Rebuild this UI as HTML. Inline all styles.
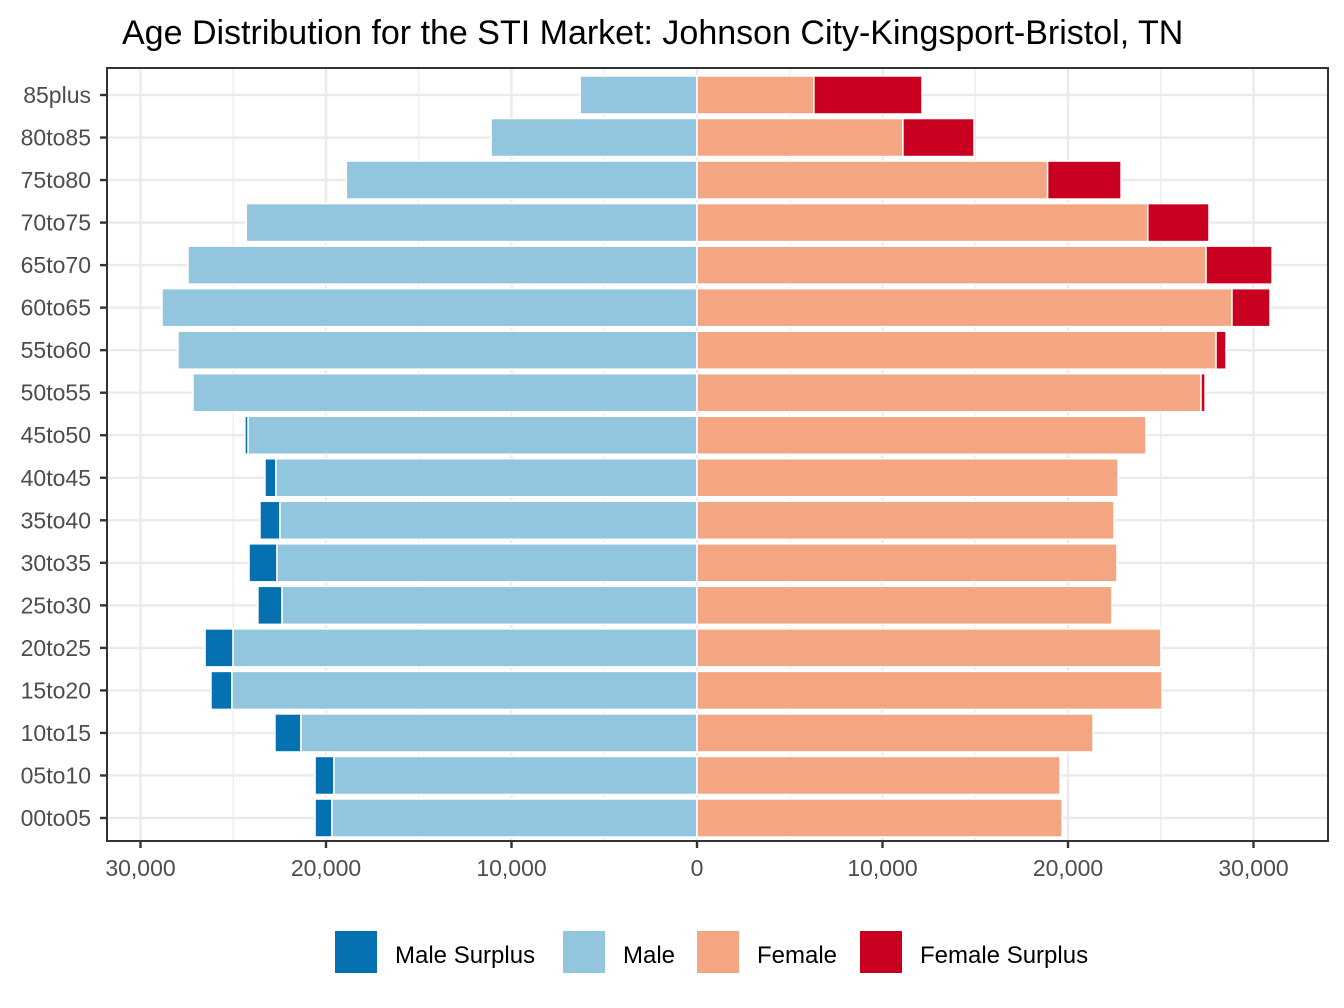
<!DOCTYPE html>
<html><head><meta charset="utf-8"><style>body{margin:0;background:#fff}svg{display:block;font-family:"Liberation Sans",Arial,sans-serif}</style></head>
<body>
<svg id="c" width="1344" height="1008"></svg>
<script>
const categories=["85plus","80to85","75to80","70to75","65to70","60to65","55to60","50to55","45to50","40to45","35to40","30to35","25to30","20to25","15to20","10to15","05to10","00to05"];
const maleValues=[6300,11100,18900,24300,27440,28840,27980,27170,24370,23290,23560,24150,23670,26520,26200,22750,20590,20590];
const femaleValues=[12130,14930,22860,27600,31000,30890,28520,27390,24200,22700,22480,22640,22370,25010,25070,21350,19570,19680];
const xTicks=[-30000,-20000,-10000,0,10000,20000,30000];
const xTickLabels=["30,000","20,000","10,000","0","10,000","20,000","30,000"];
const NS="http://www.w3.org/2000/svg",svg=document.getElementById('c');
const L=107,R=1328,T=68,B=841,x0=697,k=185.5/10000;
const X=v=>x0+v*k;
const Y=i=>95+i*(818-95)/17;
const bh=38;
function el(t,a,p){const e=document.createElementNS(NS,t);for(const q in a)e.setAttribute(q,a[q]);(p||svg).appendChild(e);return e;}
el('rect',{x:0,y:0,width:1344,height:1008,fill:'#fff'});
// minor grid
for(let v=-35000;v<=35000;v+=10000){const px=X(v);if(px>L&&px<R){const g=el('line',{x1:px,x2:px,y1:T,y2:B,stroke:'#ebebeb','stroke-width':1.2});}}
xTicks.forEach(v=>{const g=el('line',{x1:X(v),x2:X(v),y1:T,y2:B,stroke:'#ebebeb','stroke-width':2.4});});
categories.forEach((c,i)=>{const g=el('line',{x1:L,x2:R,y1:Y(i),y2:Y(i),stroke:'#ebebeb','stroke-width':2.4});});
function bar(x1,x2,y,fill,name){const r=el('rect',{x:Math.min(x1,x2),y:y-bh/2,width:Math.abs(x2-x1),height:bh,fill:fill,stroke:'#fff','stroke-width':1.5});}
categories.forEach((c,i)=>{const m=maleValues[i],f=femaleValues[i],base=Math.min(m,f),y=Y(i);
 if(m>f)bar(X(-m),X(-base),y,'#0571b0','male-surplus-bar-'+c);
 bar(X(-base),X(0),y,'#92c5de','male-bar-'+c);
 bar(X(0),X(base),y,'#f4a582','female-bar-'+c);
 if(f>m)bar(X(base),X(f),y,'#ca0020','female-surplus-bar-'+c);
 el('line',{x1:L-7,x2:L,y1:y,y2:y,stroke:'#333','stroke-width':2.4});
 const t=el('text',{x:L-16,y:y+8,'text-anchor':'end','font-size':23,fill:'#4d4d4d'});t.textContent=c;
});
const fr=el('rect',{x:L,y:T,width:R-L,height:B-T,fill:'none',stroke:'#333','stroke-width':2});
xTicks.forEach((v,i)=>{el('line',{x1:X(v),x2:X(v),y1:B,y2:B+7,stroke:'#333','stroke-width':2.4});const t=el('text',{x:X(v),y:B+35,'text-anchor':'middle','font-size':23,fill:'#4d4d4d'});t.textContent=xTickLabels[i];});
const ti=el('text',{x:122,y:44,'font-size':34,fill:'#000'});ti.textContent="Age Distribution for the STI Market: Johnson City-Kingsport-Bristol, TN";
const leg=[["Male Surplus","#0571b0",335],["Male","#92c5de",563],["Female","#f4a582",697],["Female Surplus","#ca0020",860]];
leg.forEach(l=>{const g=el('g',{});
 el('rect',{x:l[2],y:931,width:42,height:42,fill:l[1]},g);const t=el('text',{x:l[2]+60,y:963,'font-size':24,fill:'#000'},g);t.textContent=l[0];});
</script>
</body></html>
